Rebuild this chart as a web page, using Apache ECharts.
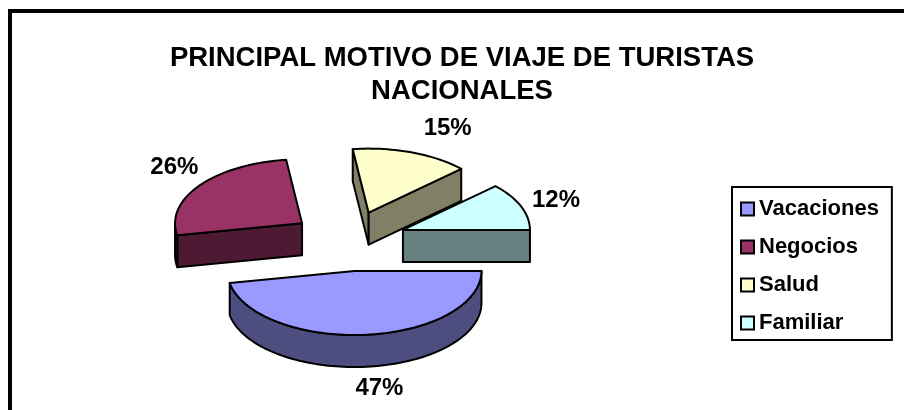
<!DOCTYPE html>
<html>
<head>
<meta charset="utf-8">
<style>html,body{margin:0;padding:0;background:#fff}#c{width:904px;height:410px}</style>
<script src="https://cdn.jsdelivr.net/npm/echarts@6/dist/echarts.min.js"></script>
</head>
<body>
<div id="c"></div>
<script>
const categories = ['Vacaciones', 'Negocios', 'Salud', 'Familiar'];
const values = [47, 26, 15, 12];
const titleLines = ['PRINCIPAL MOTIVO DE VIAJE DE TURISTAS', 'NACIONALES'];

const topColors = ['#9999FF', '#993366', '#FFFFCC', '#CCFFFF'];
const sideColors = ['#4D4D80', '#4D1933', '#808066', '#668080'];
const drawOrder = [4, 1, 2, 3];
const labelNudge = [[13, 54], [-25, -18], [36, -24], [35, -6]];
const pie = { cx: 349, cy: 241, rx: 127, ry: 64, depth: 32, explode: 58 };
const font = '"Liberation Sans", Arial, sans-serif';

const total = values.reduce((a, b) => a + b, 0);
function sliceAngles(i) {
  let s = 0;
  for (let k = 0; k < i; k++) s += values[k];
  return [s / total * 2 * Math.PI, (s + values[i]) / total * 2 * Math.PI];
}
function arcPts(ax, ay, a0, a1, dy) {
  const pts = [];
  const n = Math.max(4, Math.round((a1 - a0) / 0.03));
  for (let k = 0; k <= n; k++) {
    const a = a0 + (a1 - a0) * k / n;
    pts.push([ax + pie.rx * Math.cos(a), ay + pie.ry * Math.sin(a) + dy]);
  }
  return pts;
}
function renderSlice(params, api) {
  const i = params.seriesIndex;
  const [a0, a1] = sliceAngles(i);
  const mid = (a0 + a1) / 2;
  const ax = pie.cx + pie.explode * Math.cos(mid);
  const ay = pie.cy + pie.explode * 0.52 * Math.sin(mid);
  const d = pie.depth;
  const style = c => ({ fill: c, stroke: '#000', lineWidth: 2, lineJoin: 'round' });
  const poly = (points, c) => ({ type: 'polygon', shape: { points }, style: style(c) });
  const children = [];
  const pA0 = [ax + pie.rx * Math.cos(a0), ay + pie.ry * Math.sin(a0)];
  const pA1 = [ax + pie.rx * Math.cos(a1), ay + pie.ry * Math.sin(a1)];
  const pC = [ax, ay];
  const down = p => [p[0], p[1] + d];
  // cut faces are visible only when their outward normal points towards the viewer
  if (Math.cos(a0) < 0) children.push(poly([pC, pA0, down(pA0), down(pC)], sideColors[i]));
  if (Math.cos(a1) > 0) children.push(poly([pC, pA1, down(pA1), down(pC)], sideColors[i]));
  // outer wall over the front half of the rim
  const w0 = Math.max(a0, 0), w1 = Math.min(a1, Math.PI);
  if (w1 > w0) {
    const top = arcPts(ax, ay, w0, w1, 0);
    const bottom = arcPts(ax, ay, w0, w1, d).reverse();
    children.push(poly(top.concat(bottom), sideColors[i]));
  }
  // top face
  children.push(poly([pC].concat(arcPts(ax, ay, a0, a1, 0)), topColors[i]));
  // percent label
  const n = labelNudge[i];
  children.push({
    type: 'text',
    style: {
      x: ax + pie.rx * Math.cos(mid) + n[0],
      y: ay + pie.ry * Math.sin(mid) + n[1],
      text: api.value(0) + '%',
      fill: '#000',
      font: 'bold 24px ' + font,
      align: 'center',
      verticalAlign: 'middle'
    }
  });
  return { type: 'group', children };
}

const chart = echarts.init(document.getElementById('c'), null, { renderer: 'canvas' });
chart.setOption({
  animation: false,
  backgroundColor: '#fff',
  title: {
    text: titleLines.join('\n'),
    left: 462,
    top: 42,
    textAlign: 'center',
    padding: 0,
    textStyle: { fontFamily: font, fontWeight: 'bold', fontSize: 27.5, lineHeight: 33, color: '#000' }
  },
  legend: {
    orient: 'vertical',
    left: 732,
    top: 187,
    padding: [10, 13, 5, 8],
    itemGap: 14,
    itemWidth: 13,
    itemHeight: 13,
    borderColor: '#000',
    borderWidth: 2,
    backgroundColor: '#fff',
    selectedMode: false,
    data: categories,
    icon: 'rect',
    itemStyle: { borderColor: '#000', borderWidth: 2 },
    textStyle: { fontFamily: font, fontWeight: 'bold', fontSize: 22, color: '#000', lineHeight: 24 }
  },
  graphic: [{
    type: 'rect',
    z: -1,
    silent: true,
    shape: { x: 10, y: 11, width: 1000, height: 600 },
    style: { fill: 'none', stroke: '#000', lineWidth: 4 }
  }],
  series: categories.map((name, i) => ({
    type: 'custom',
    name,
    coordinateSystem: 'none',
    z: 2 + drawOrder[i],
    itemStyle: { color: topColors[i] },
    data: [[values[i]]],
    renderItem: renderSlice
  }))
});
</script>
</body>
</html>
